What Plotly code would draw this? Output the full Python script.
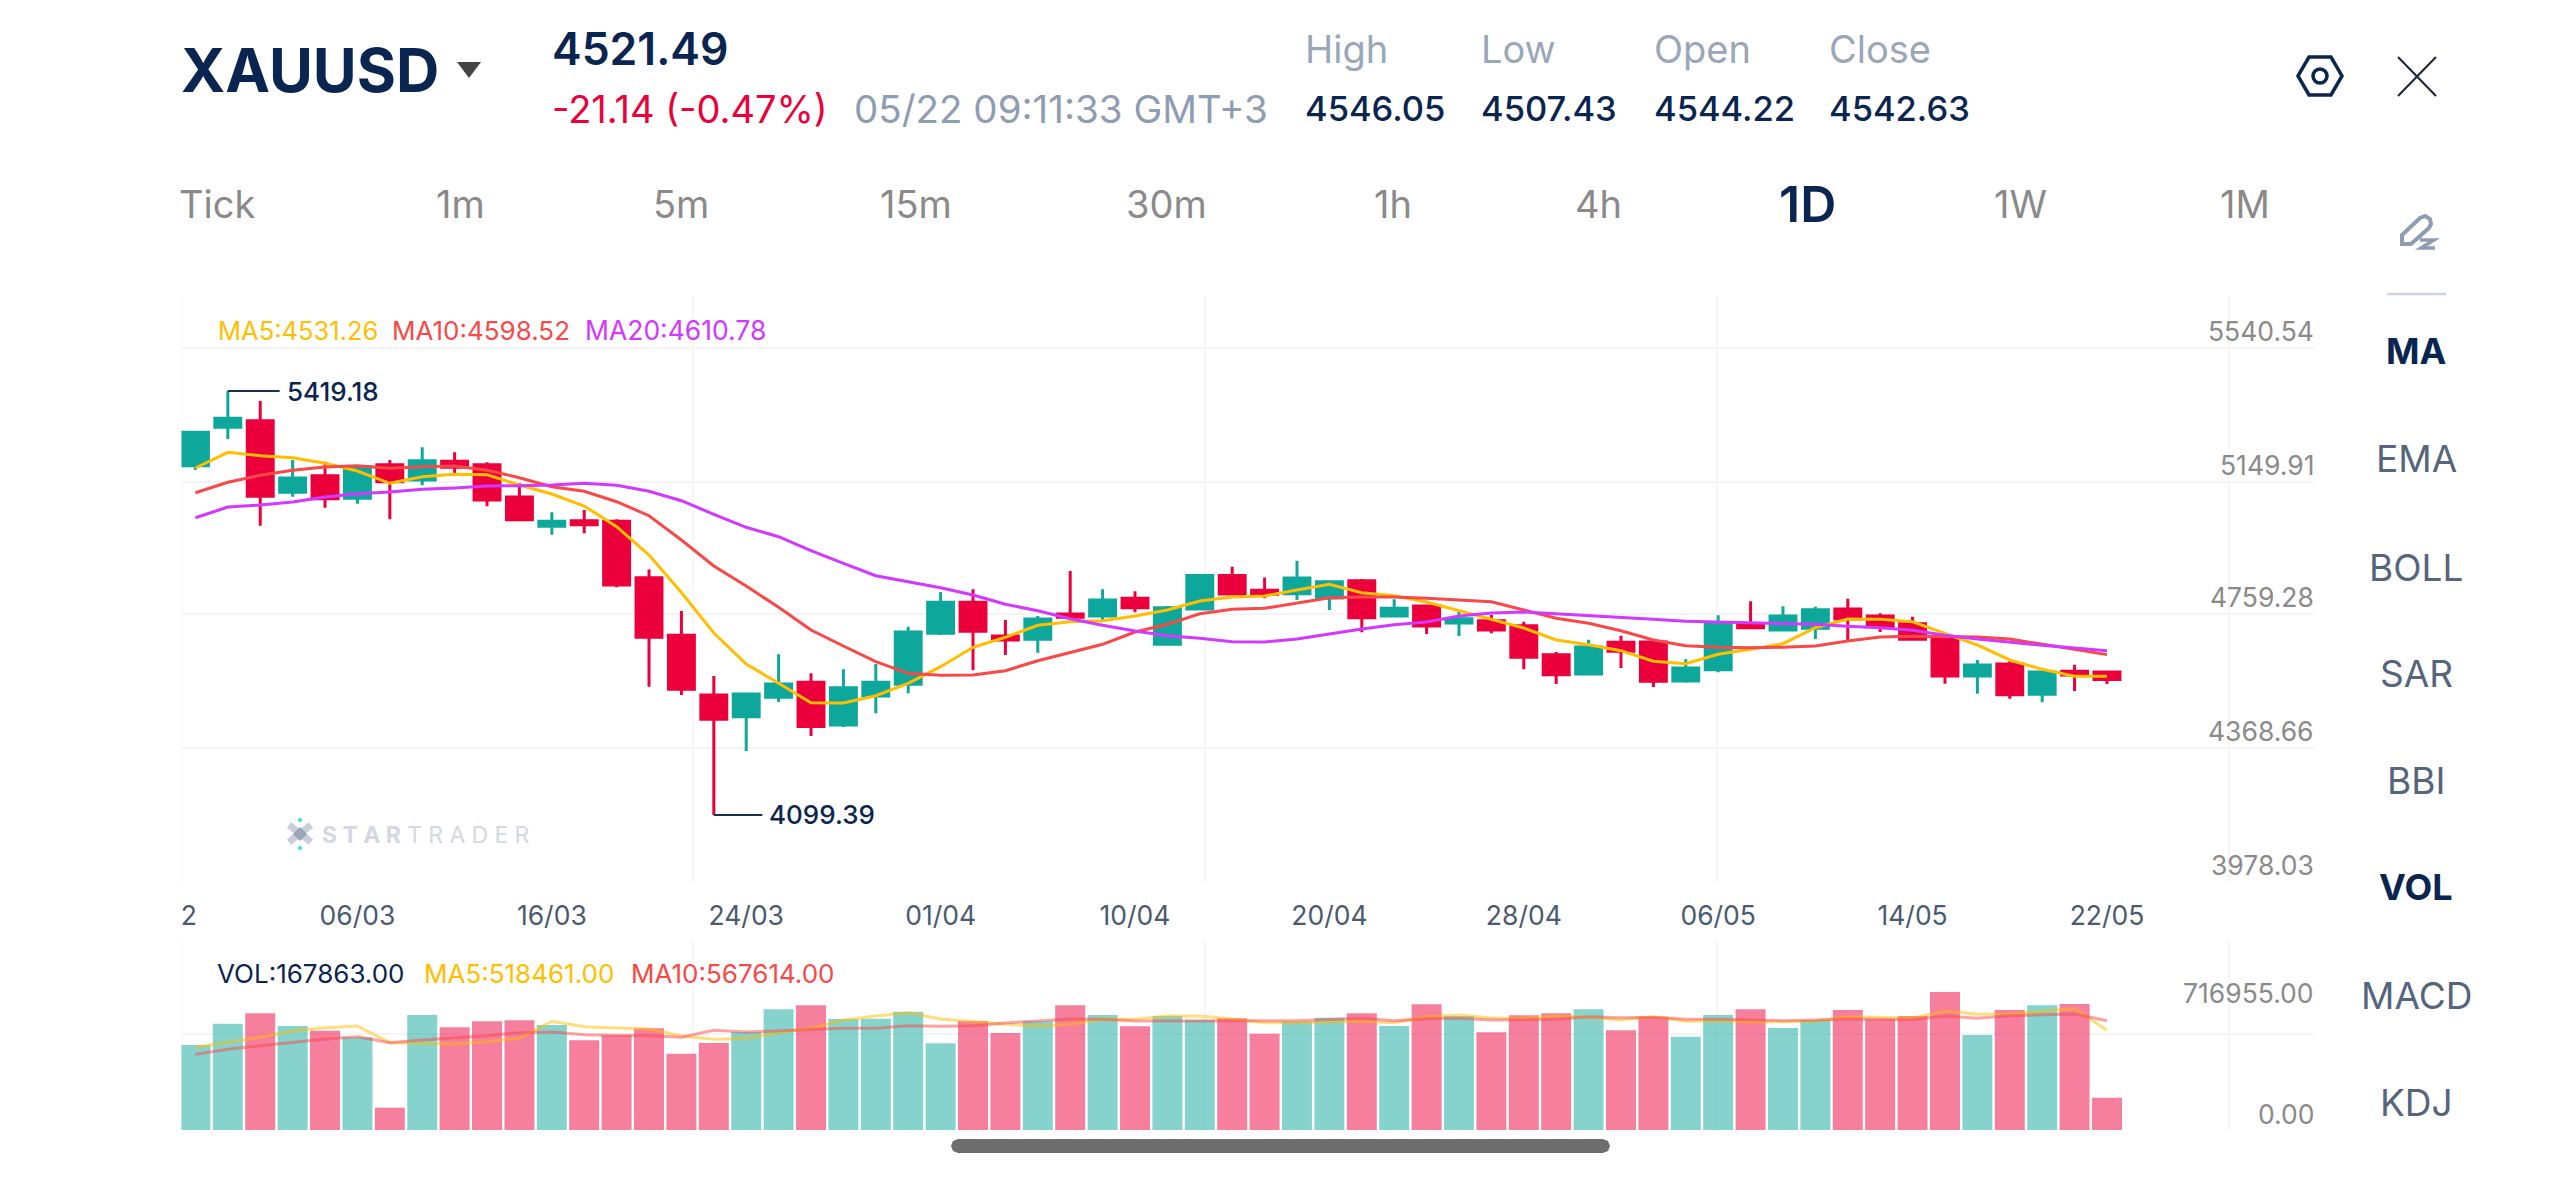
import plotly.graph_objects as go

W, H = 2560, 1177

# Daily XAUUSD candles
opens = [5186.7, 5306.2, 5326.8, 5103.9, 5155.5, 5085.2, 5189.8, 5142.2, 5200.4, 5189.8,
         5089.2, 4998.0, 5015.5, 5013.6, 4838.0, 4658.7, 4472.9, 4405.3, 4465.7, 4512.4,
         4379.5, 4469.8, 4506.2, 4664.9, 4761.4, 4656.5, 4646.3, 4725.0, 4718.8, 4773.9,
         4630.7, 4740.6, 4845.2, 4798.6, 4788.2, 4774.8, 4828.7, 4718.8, 4749.9, 4697.0,
         4704.2, 4688.6, 4598.0, 4538.2, 4636.9, 4637.9, 4516.4, 4551.6, 4691.7, 4675.2,
         4680.5, 4740.6, 4718.8, 4694.8, 4650.3, 4532.0, 4569.4, 4475.0, 4546.6, 4544.22]
closes = [5290.6, 5334.2, 5091.4, 5148.4, 5083.9, 5183.6, 5136.9, 5202.2, 5181.7, 5079.9,
          5018.6, 5013.6, 5003.0, 4815.3, 4652.5, 4490.6, 4397.2, 4476.0, 4507.1, 4374.5,
          4495.6, 4512.4, 4669.0, 4761.4, 4671.1, 4644.1, 4709.4, 4714.7, 4768.6, 4744.6,
          4744.6, 4845.2, 4787.3, 4786.3, 4837.1, 4825.6, 4713.5, 4742.8, 4687.7, 4710.4,
          4675.2, 4590.2, 4535.7, 4622.3, 4608.9, 4515.5, 4556.9, 4692.9, 4682.4, 4718.8,
          4738.4, 4709.4, 4685.5, 4646.3, 4532.0, 4566.3, 4473.8, 4544.5, 4535.1, 4521.49]
highs = [5290.6, 5419.18, 5388.1, 5204.4, 5199.1, 5186.0, 5204.4, 5244.0, 5228.4, 5197.3,
         5131.9, 5041.6, 5048.8, 5019.8, 4863.2, 4734.4, 4532.0, 4479.1, 4599.6, 4540.4,
         4552.9, 4569.4, 4685.5, 4793.5, 4801.9, 4706.3, 4718.8, 4858.9, 4801.9, 4795.7,
         4749.9, 4847.1, 4872.0, 4838.9, 4891.0, 4828.7, 4834.0, 4770.8, 4753.0, 4732.2,
         4721.9, 4701.0, 4606.4, 4645.0, 4657.5, 4641.0, 4583.9, 4721.0, 4764.6, 4749.0,
         4747.7, 4772.6, 4727.1, 4716.6, 4653.4, 4581.9, 4577.6, 4548.5, 4567.2, 4546.05]
lows = [5173.3, 5269.8, 4999.9, 5090.2, 5055.9, 5068.4, 5019.8, 5125.7, 5162.9, 5060.3,
        5013.6, 4971.9, 4976.2, 4808.1, 4498.7, 4472.9, 4099.39, 4298.5, 4451.1, 4345.2,
        4373.2, 4415.9, 4478.1, 4659.6, 4550.7, 4597.0, 4604.5, 4711.6, 4706.3, 4730.3,
        4630.7, 4740.6, 4787.3, 4773.9, 4768.6, 4737.5, 4668.1, 4714.7, 4662.8, 4656.5,
        4664.9, 4552.9, 4507.1, 4535.1, 4556.9, 4497.7, 4511.2, 4543.5, 4682.4, 4673.0,
        4647.2, 4641.0, 4669.0, 4644.1, 4508.0, 4476.9, 4461.4, 4450.1, 4485.3, 4507.43]

ma5 = [5179.5, 5228.4, 5217.8, 5211.6, 5194.1, 5170.2, 5131.9, 5152.4, 5159.9, 5158.6,
       5126.6, 5098.6, 5061.2, 4996.8, 4908.7, 4792.0, 4665.9, 4569.4, 4509.3, 4448.9,
       4448.0, 4470.7, 4509.3, 4561.0, 4621.4, 4652.5, 4689.8, 4701.0, 4704.2, 4718.8,
       4737.5, 4765.5, 4778.0, 4781.0, 4799.7, 4817.5, 4791.3, 4782.0, 4762.4, 4735.3,
       4706.3, 4681.4, 4644.1, 4629.5, 4610.8, 4577.8, 4570.3, 4599.6, 4615.2, 4632.6,
       4682.4, 4709.4, 4708.5, 4701.0, 4664.9, 4628.5, 4581.9, 4552.9, 4531.1, 4531.26]
ma10 = [5102.6, 5135.0, 5156.8, 5172.4, 5182.6, 5186.7, 5178.6, 5183.6, 5185.7, 5172.4,
        5149.4, 5121.4, 5107.0, 5074.6, 5031.0, 4955.4, 4874.5, 4812.2, 4745.9, 4675.2,
        4625.4, 4576.5, 4540.4, 4534.2, 4535.1, 4548.5, 4579.6, 4604.5, 4630.7, 4669.0,
        4692.9, 4725.9, 4739.6, 4742.8, 4758.3, 4775.7, 4778.0, 4778.0, 4773.9, 4768.6,
        4763.3, 4737.5, 4711.6, 4696.1, 4673.0, 4644.1, 4626.4, 4621.4, 4620.1, 4621.4,
        4625.4, 4641.0, 4653.4, 4655.6, 4653.4, 4653.4, 4647.2, 4631.6, 4615.2, 4598.52]
ma20 = [5024.8, 5058.1, 5064.3, 5073.7, 5089.2, 5099.5, 5104.8, 5113.2, 5117.3, 5123.5,
        5124.4, 5126.6, 5131.9, 5125.7, 5107.0, 5077.7, 5035.4, 4994.9, 4965.7, 4922.1,
        4882.9, 4844.3, 4825.6, 4806.9, 4784.2, 4755.2, 4735.3, 4710.4, 4689.8, 4672.1,
        4657.5, 4649.4, 4638.8, 4637.9, 4647.2, 4663.7, 4678.3, 4691.7, 4700.1, 4718.8,
        4728.1, 4731.2, 4725.9, 4719.7, 4715.7, 4708.5, 4702.2, 4700.1, 4696.1, 4694.8,
        4692.9, 4686.7, 4682.4, 4674.3, 4658.7, 4647.2, 4636.9, 4627.6, 4619.2, 4610.78]

volume = [441584, 552412, 606095, 540290, 516047, 481413, 116024, 597437, 533364, 564534,
          569729, 545486, 465827, 491803, 528169, 396559, 451974, 509120, 626875, 647656,
          576656, 578388, 614754, 450242, 566266, 503925, 564534, 647656, 597437, 538559,
          592241, 571461, 580120, 500461, 561071, 583583, 606095, 540290, 652851, 592241,
          507388, 595705, 606095, 626875, 517778, 588778, 484876, 597437, 626875, 529900,
          571461, 623412, 574924, 592241, 716955, 493535, 623412, 647656, 654583, 167863]
vol_ma5 = [429462, 453705, 481413, 514315, 531632, 540290, 453705, 450242, 446779, 458901,
           476218, 564534, 536827, 529900, 524705, 488339, 471022, 476218, 505656, 528169,
           571461, 592241, 609558, 576656, 561071, 548949, 540290, 548949, 574924, 574924,
           592241, 592241, 576656, 557607, 557607, 561071, 564534, 557607, 588778, 597437,
           581851, 580120, 592241, 585315, 571461, 588778, 564534, 567998, 562803, 562803,
           564534, 588778, 585315, 581851, 618217, 600900, 602632, 614754, 630339, 518461]
vol_ma10 = [393096, 419071, 438120, 457169, 472754, 484876, 453705, 467559, 477949, 490071,
            505656, 509120, 495266, 491803, 490071, 481413, 517778, 509120, 516047, 522973,
            528169, 528169, 542022, 538559, 542022, 555876, 566266, 576656, 574924, 566266,
            566266, 567998, 567998, 567998, 567998, 574924, 580120, 567998, 578388, 580120,
            571461, 573193, 574924, 588778, 583583, 585315, 574924, 574924, 569729, 567998,
            571461, 576656, 574924, 573193, 592241, 580120, 593973, 599168, 602632, 567614]

# Axis labels and gridlines
date_positions = [-0.2, 5, 11, 17, 23, 29, 35, 41, 47, 53, 59]
date_labels = ["2", "06/03", "16/03", "24/03", "01/04", "10/04", "20/04", "28/04", "06/05", "14/05", "22/05"]
price_range = [3890.7, 5715.0]
price_grid = [5553.0, 5136.0, 4725.0, 4308.0, 3890.7]
price_labels = ["5540.54", "5149.91", "4759.28", "4368.66", "3978.03"]
volume_range = [0, 987050]
volume_grid = [0, 498720, 987050]
vertical_grid = [-0.43, 15.36, 31.16, 46.96, 62.76]

# Header and menu text
timeframes = ["Tick", "1m", "5m", "15m", "30m", "1h", "4h", "1D", "1W", "1M"]
timeframe_x = [217, 460, 681, 916, 1166, 1393, 1598, 1807, 2020, 2245]
indicators = ["MA", "EMA", "BOLL", "SAR", "BBI", "VOL", "MACD", "KDJ"]
indicator_y = [351, 459, 567, 673, 780, 887, 995, 1102]
active = {"1D", "MA", "VOL"}
quote_titles = ["High", "Low", "Open", "Close"]
quote_values = ["4546.05", "4507.43", "4544.22", "4542.63"]
quote_x = [1304, 1480, 1653, 1828]

TEAL, RED = "#0DA89B", "#EC003C"
YELLOW, CORAL, VIOLET = "#FFBE00", "#F94848", "#D238FF"
NAVY, GREY, SLATE = "#0A2550", "#8A8A8A", "#8E9DB2"
FONT = "Inter"
LEFT, RIGHT = 181.5, 2314
XRANGE = [-0.43, 65.39]

idx = list(range(len(closes)))
fig = go.Figure()

fig.add_trace(go.Candlestick(
    x=idx, open=opens, high=highs, low=lows, close=closes, whiskerwidth=0,
    increasing=dict(line=dict(color=TEAL, width=3), fillcolor=TEAL),
    decreasing=dict(line=dict(color=RED, width=3), fillcolor=RED),
    showlegend=False, xaxis="x", yaxis="y"))

for series, colour in ((ma5, YELLOW), (ma10, CORAL), (ma20, VIOLET)):
    fig.add_trace(go.Scatter(x=idx, y=series, mode="lines", showlegend=False,
                             line=dict(color=colour, width=3), xaxis="x", yaxis="y"))

# Leader lines to the highest and lowest labels
hi = highs.index(max(highs))
lo = lows.index(min(lows))
for i, span, val in ((hi, 1.6, highs[hi]), (lo, 1.5, lows[lo])):
    fig.add_trace(go.Scatter(x=[i, i + span], y=[val, val], mode="lines", showlegend=False,
                             line=dict(color="#1A3050", width=2), xaxis="x", yaxis="y"))

bar_colours = ["rgba(13,168,155,0.5)" if c >= o else "rgba(236,0,60,0.5)" for o, c in zip(opens, closes)]
fig.add_trace(go.Bar(x=idx, y=volume, marker=dict(color=bar_colours, line_width=0),
                     showlegend=False, xaxis="x2", yaxis="y2"))
for series, colour in ((vol_ma5, "rgba(255,190,0,0.5)"), (vol_ma10, "rgba(249,72,72,0.5)")):
    fig.add_trace(go.Scatter(x=idx, y=series, mode="lines", showlegend=False,
                             line=dict(color=colour, width=3), xaxis="x2", yaxis="y2"))


def px(x):
    return x / W


def py(y):
    return 1 - y / H


notes = []


def label(text, x, y, size, colour, weight=400, anchor="left"):
    notes.append(dict(text=text, x=px(x), y=py(y), xref="paper", yref="paper", xanchor=anchor,
                      yanchor="middle", showarrow=False, borderpad=0,
                      font=dict(family=FONT, size=size, color=colour, weight=weight)))


# Header
label("XAUUSD", 180, 70, 60, NAVY, 700)
label("4521.49", 551, 49, 44.5, NAVY, 600)
label("-21.14 (-0.47%)", 551, 109, 38, RED)
label("05/22 09:11:33 GMT+3", 853, 109, 38.5, SLATE)
for title, value, x in zip(quote_titles, quote_values, quote_x):
    label(title, x, 49, 38, "#9AA7B8")
    label(value, x, 109, 34.5, NAVY, 500)

for name, x in zip(timeframes, timeframe_x):
    on = name in active
    label(name, x, 204, 50 if on else 38, NAVY if on else GREY, 600 if on else 400, "center")

for name, y in zip(indicators, indicator_y):
    on = name in active
    label(name, 2416, y, 36 if on else 37, NAVY if on else "#55657C", 700 if on else 400, "center")

# Moving average readouts
label("MA5:4531.26", 217, 330, 25.5, YELLOW)
label("MA10:4598.52", 391, 330, 26, CORAL)
label("MA20:4610.78", 584, 330, 26.5, VIOLET)
label("VOL:167863.00", 216, 973, 26, NAVY)
label("MA5:518461.00", 423, 973, 26, YELLOW)
label("MA10:567614.00", 630, 973, 26, CORAL)

# Value labels on the right edge; each sits on top of its gridline
for text, val in zip(price_labels, price_grid):
    notes.append(dict(text=text, x=px(RIGHT + 1), xref="paper", y=val, yref="y", xanchor="right",
                      yanchor="bottom", showarrow=False, borderpad=0,
                      font=dict(family=FONT, size=26.5, color=GREY)))
label("716955.00", RIGHT + 1, 993, 26.5, GREY, 400, "right")
label("0.00", RIGHT + 1, 1114, 26.5, GREY, 400, "right")

# High and low callouts
for i, span, val in ((hi, 1.6, highs[hi]), (lo, 1.5, lows[lo])):
    notes.append(dict(text=f"{val:.2f}", x=i + span, y=val, xref="x", yref="y", xanchor="left",
                      yanchor="middle", xshift=6, showarrow=False, borderpad=0,
                      font=dict(family=FONT, size=26, color=NAVY, weight=500)))

# Watermark wordmark
label("<b>S\u2009\u200aT\u2009\u200aA\u2009\u200aR</b>\u2009\u200aT\u2009\u200aR\u2009\u200aA\u2009\u200aD\u2009\u200aE\u2009\u200aR",
      321, 835, 23, "#D3D8E2")

shapes = []
for gx in vertical_grid:
    for yref in ("y domain", "y2 domain"):
        shapes.append(dict(type="line", xref="x", yref=yref, x0=gx, x1=gx, y0=0, y1=1, layer="below",
                           line=dict(color="#F4F4F5", width=1.5)))


def path(points, closed=False):
    d = "M" + " L".join(f"{px(x):.5f},{py(y):.5f}" for x, y in points)
    return d + (" Z" if closed else "")


def outline(d, colour, width=None, fill=None):
    shapes.append(dict(type="path", path=d, xref="paper", yref="paper",
                       line=dict(color=colour, width=width or 0), fillcolor=fill))


def dot(x, y, r, colour):
    shapes.append(dict(type="circle", xref="paper", yref="paper", x0=px(x - r), x1=px(x + r),
                       y0=py(y + r), y1=py(y - r), fillcolor=colour, line=dict(width=0)))


# Watermark star mark
outline(path([(289, 825), (311, 842)]), "#C9CFDA", 7)
outline(path([(311, 825), (289, 842)]), "#C9CFDA", 7)
outline(path([(300, 827), (307, 834), (300, 841), (293, 834)], True), "#9AA5B8", 0, "#9AA5B8")
dot(300, 820, 2, "#2EE6D6")
dot(300, 848, 2, "#2EE6D6")

# Drop-down triangle, settings hexagon, close cross, divider, scrollbar
outline(path([(457, 62), (481, 62), (469, 78)], True), "#444444", 0, "#444444")
outline(path([(2298, 76), (2309, 57), (2331, 57), (2342, 76), (2331, 95), (2309, 95)], True), NAVY, 3.5)
shapes.append(dict(type="circle", xref="paper", yref="paper", x0=px(2313), x1=px(2327), y0=py(83), y1=py(69),
                   line=dict(color=NAVY, width=3.5)))
outline(path([(2398, 57), (2436, 96)]), "#1A2433", 2)
outline(path([(2436, 57), (2398, 96)]), "#1A2433", 2)
outline(path([(2387, 294), (2446, 294)]), "#CBD3DE", 2.5)
# Drawing-tools pencil
outline(path([(2402, 244), (2402, 235), (2420, 218), (2425, 216), (2430, 219), (2431, 224), (2429, 228), (2411, 244)], True),
        "#8E9DB2", 4)
outline(path([(2420, 240), (2434, 240), (2421, 248), (2435, 248)]), "#8E9DB2", 3.5)
outline(path([(958, 1139), (1603, 1139), (1608, 1141), (1610, 1146), (1608, 1151), (1603, 1153),
              (958, 1153), (953, 1151), (951, 1146), (953, 1141)], True), "#6E6E6E", 0, "#6E6E6E")

fig.update_layout(
    width=W, height=H, margin=dict(l=0, r=0, t=0, b=0), autosize=False,
    paper_bgcolor="white", plot_bgcolor="white", showlegend=False,
    font=dict(family=FONT), boxgap=0.2, boxgroupgap=0, bargap=0.075,
    annotations=notes, shapes=shapes,
    xaxis=dict(domain=[px(LEFT), px(RIGHT)], range=XRANGE, anchor="y", rangeslider=dict(visible=False),
               showgrid=False, zeroline=False, showline=False, ticks="",
               tickmode="array", tickvals=date_positions, ticktext=date_labels,
               tickfont=dict(family=FONT, size=26.5, color="#4A5A70"), ticklabelstandoff=15),
    yaxis=dict(domain=[1 - 882 / H, 1 - 296 / H], range=price_range, anchor="x", side="right",
               showgrid=True, gridcolor="#F4F4F5", gridwidth=1.5, zeroline=False, showline=False,
               tickmode="array", tickvals=price_grid + [price_range[1]], showticklabels=False, ticks=""),
    xaxis2=dict(domain=[px(LEFT), px(RIGHT)], range=XRANGE, anchor="y2", showgrid=False, zeroline=False,
                showline=False, showticklabels=False, ticks=""),
    yaxis2=dict(domain=[1 - 1130 / H, 1 - 940 / H], range=volume_range, anchor="x2", side="right",
                showgrid=True, gridcolor="#F4F4F5", gridwidth=1.5, zeroline=False, showline=False,
                tickmode="array", tickvals=volume_grid, showticklabels=False, ticks=""),
)

fig.write_html("out.html", config=dict(displayModeBar=False))
